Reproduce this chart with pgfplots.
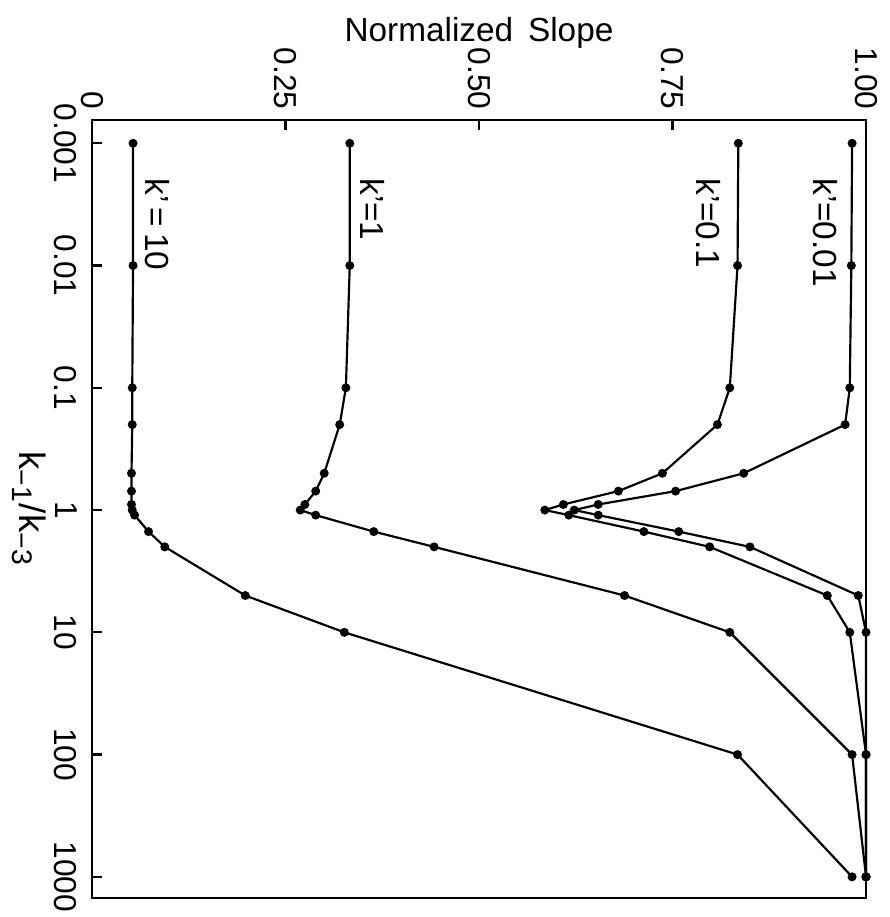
\documentclass[border=0pt]{standalone}
\usepackage{fontspec}
\setmainfont{Liberation Sans}
\usepackage{pgfplots}
\pgfplotsset{compat=1.18}
\begin{document}
\begin{tikzpicture}
\pgfplotsset{curve/.style={black, line width=0.65pt, mark=*, mark size=1pt, mark options={solid, fill=black}}}
\begin{axis}[
  name=ax,
  scale only axis,
  width=232pt, height=233.2pt,
  xmin=0, xmax=1,
  ymode=log, ymin=6.45e-4, ymax=1.49e3, y dir=reverse,
  clip=false,
  axis line style={line width=0.8pt},
  tick align=inside,
  major tick length=3pt,
  tick style={line width=0.7pt, black},
  xtick pos=upper, xticklabel pos=upper,
  ytick pos=left, yticklabel pos=left,
  yminorticks=false,
  xtick={0,0.25,0.5,0.75,1},
  xticklabels={0,0.25,0.50,0.75,1.00},
  ytick={0.001,0.01,0.1,1,10,100,1000},
  yticklabels={0.001,0.01,0.1,1,10,100,1000},
  /pgf/number format/assume math mode=true,
  ticklabel style={font=\fontsize{9.5}{11}\selectfont},
  xticklabel style={rotate=-90, anchor=east, inner sep=3pt},
  yticklabel style={rotate=-90, anchor=north, inner sep=4.3pt},
  xlabel={Normalized\, Slope},
  xlabel style={font=\fontsize{10}{12}\selectfont, inner sep=0pt, at={(axis description cs:0.5,1)}, anchor=base, yshift=23.4pt},
  ylabel={k\textsubscript{\fontsize{8.5}{10}\selectfont −1}/k\textsubscript{\fontsize{8.5}{10}\selectfont −3}},
  ylabel style={font=\fontsize{11}{13}\selectfont, inner sep=0pt, at={(axis description cs:-0.081,0.5)}, anchor=center, rotate=180},
]
% k'=0.01
\addplot[curve] coordinates {
(0.982,0.001) (0.981,0.01) (0.979,0.1) (0.973,0.2) (0.842,0.5) (0.754,0.7)
(0.654,0.9) (0.623,1) (0.654,1.1) (0.758,1.5) (0.850,2) (0.990,5)
(1.0,10) (1.0,100) (1.0,1000)};
% k'=0.1
\addplot[curve] coordinates {
(0.835,0.001) (0.834,0.01) (0.824,0.1) (0.808,0.2) (0.737,0.5) (0.680,0.7)
(0.609,0.9) (0.585,1) (0.616,1.1) (0.713,1.5) (0.798,2) (0.950,5)
(0.979,10) (1.0,100) (1.0,1000)};
% k'=1
\addplot[curve] coordinates {
(0.333,0.001) (0.333,0.01) (0.328,0.1) (0.320,0.2) (0.300,0.5) (0.289,0.7)
(0.275,0.9) (0.269,1) (0.289,1.1) (0.364,1.5) (0.442,2) (0.688,5)
(0.824,10) (0.982,100) (1.0,1000)};
% k'=10
\addplot[curve] coordinates {
(0.053,0.001) (0.053,0.01) (0.052,0.1) (0.052,0.2) (0.051,0.5) (0.051,0.7)
(0.051,0.9) (0.052,1) (0.055,1.1) (0.073,1.5) (0.094,2) (0.198,5)
(0.326,10) (0.834,100) (0.982,1000)};
\node[rotate=-90, anchor=west, font=\fontsize{10}{12}\selectfont] at (axis cs:0.947,0.00155) {k'=0.01};
\node[rotate=-90, anchor=west, font=\fontsize{10}{12}\selectfont] at (axis cs:0.797,0.00155) {k'=0.1};
\node[rotate=-90, anchor=west, font=\fontsize{10}{12}\selectfont] at (axis cs:0.362,0.00155) {k'=1};
\node[rotate=-90, anchor=west, font=\fontsize{10}{12}\selectfont] at (axis cs:0.085,0.00155) {k'\,=\,10};
\end{axis}
\pgfresetboundingbox
\path[use as bounding box] ([xshift=-27.58pt,yshift=-5.69pt]ax.south west) rectangle ([xshift=6.89pt,yshift=35.97pt]ax.north east);
\end{tikzpicture}
\end{document}
